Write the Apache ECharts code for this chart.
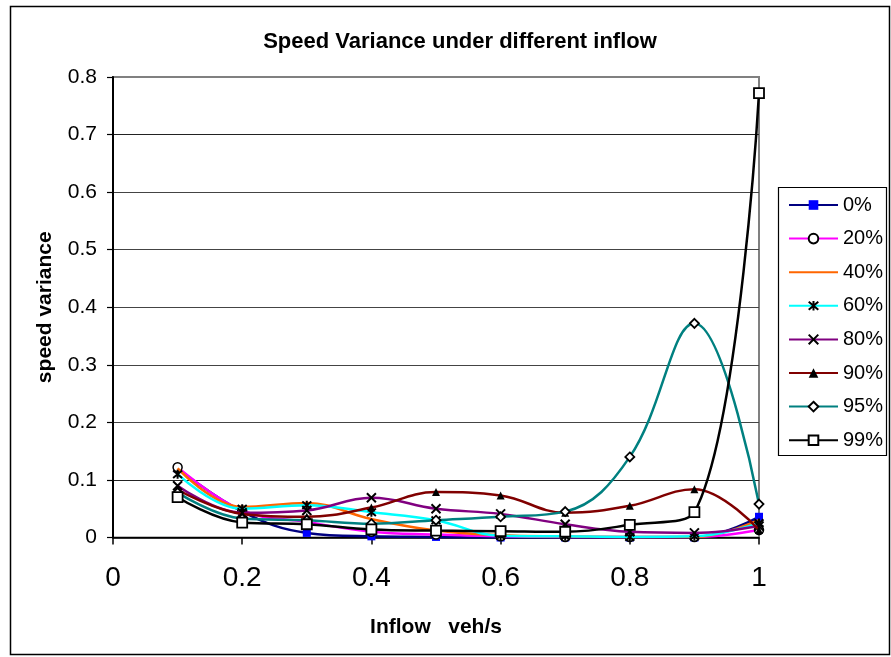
<!DOCTYPE html>
<html>
<head>
<meta charset="utf-8">
<script src="https://cdn.jsdelivr.net/npm/echarts@6/dist/echarts.min.js"></script>
<style>html,body{margin:0;padding:0;background:#fff}#c{width:891px;height:657px}</style>
</head>
<body>
<div id="c"></div>
<script>
var inflow = [0.1, 0.2, 0.3, 0.4, 0.5, 0.6, 0.7, 0.8, 0.9, 1.0];
var seriesNames = ['0%', '20%', '40%', '60%', '80%', '90%', '95%', '99%'];
var v0  = [0.120, 0.045, 0.008, 0.002, 0.001, 0.000, 0.000, 0.000, 0.000, 0.036];
var v20 = [0.122, 0.047, 0.027, 0.010, 0.005, 0.002, 0.001, 0.001, 0.001, 0.013];
var v40 = [0.120, 0.053, 0.060, 0.032, 0.012, 0.004, 0.002, 0.001, 0.001, 0.030];
var v60 = [0.110, 0.050, 0.056, 0.044, 0.030, 0.003, 0.002, 0.001, 0.002, 0.025];
var v80 = [0.090, 0.043, 0.047, 0.069, 0.050, 0.041, 0.023, 0.010, 0.008, 0.020];
var v90 = [0.083, 0.041, 0.036, 0.052, 0.079, 0.073, 0.043, 0.055, 0.084, 0.013];
var v95 = [0.078, 0.033, 0.030, 0.024, 0.030, 0.036, 0.045, 0.140, 0.372, 0.058];
var v99 = [0.070, 0.026, 0.023, 0.014, 0.012, 0.011, 0.010, 0.022, 0.044, 0.772];
var xTicks = [0, 0.2, 0.4, 0.6, 0.8, 1];
var yTicks = [0, 0.1, 0.2, 0.3, 0.4, 0.5, 0.6, 0.7, 0.8];

var values = [v0, v20, v40, v60, v80, v90, v95, v99];
var lineColors = ['#000080', '#FF00FF', '#FF6600', '#00FFFF', '#800080', '#800000', '#008080', '#000000'];
var starPath = 'path://M0,0L10,10M10,0L0,10M5,-1L5,11';
var xPath = 'path://M0,0L10,10M10,0L0,10';
var markers = [
  {symbol: 'rect', size: 8, show: true, itemStyle: {color: '#0000FF'}},
  {symbol: 'circle', size: 9, show: true, itemStyle: {color: '#ffffff', borderColor: '#000000', borderWidth: 1.5}},
  {symbol: 'circle', size: 1, show: false, itemStyle: {color: 'rgba(0,0,0,0)'}},
  {symbol: starPath, size: 9, show: true, itemStyle: {color: '#000000', borderColor: '#000000', borderWidth: 2}},
  {symbol: xPath, size: 9, show: true, itemStyle: {color: '#000000', borderColor: '#000000', borderWidth: 2}},
  {symbol: 'triangle', size: 8, show: true, itemStyle: {color: '#000000'}},
  {symbol: 'diamond', size: 9, show: true, itemStyle: {color: '#ffffff', borderColor: '#000000', borderWidth: 1.8}},
  {symbol: 'rect', size: 10, show: true, itemStyle: {color: '#ffffff', borderColor: '#000000', borderWidth: 1.8}}
];

var series = seriesNames.map(function (name, i) {
  return {
    name: name,
    type: 'line',
    smooth: 0.4,
    data: inflow.map(function (x, j) { return [x, values[i][j]]; }),
    symbol: markers[i].symbol,
    symbolSize: markers[i].size,
    showSymbol: markers[i].show,
    itemStyle: markers[i].itemStyle,
    lineStyle: {color: lineColors[i], width: 2.5},
    z: 2 + i,
    animation: false
  };
});

var font = 'Liberation Sans, Arial';
var chart = echarts.init(document.getElementById('c'), null, {renderer: 'canvas'});
chart.setOption({
  backgroundColor: '#ffffff',
  animation: false,
  title: {
    text: 'Speed Variance under different inflow',
    left: 455, top: 26, textAlign: 'center',
    textStyle: {fontFamily: font, fontWeight: 'bold', fontSize: 22, color: '#000'}
  },
  grid: {left: 113, right: 132, top: 77, bottom: 119.5, show: true, borderColor: '#808080', borderWidth: 2, backgroundColor: '#ffffff'},
  xAxis: {
    type: 'value', min: 0, max: 1, interval: 0.2,
    name: 'Inflow   veh/s', nameLocation: 'middle', nameGap: 79,
    nameTextStyle: {fontFamily: font, fontWeight: 'bold', fontSize: 21, color: '#000'},
    axisLine: {show: true, onZero: false, lineStyle: {color: '#000', width: 1.5}},
    axisTick: {show: true, inside: false, length: 7, lineStyle: {color: '#000', width: 1.5}},
    axisLabel: {
      margin: 27, fontFamily: font, fontSize: 28, color: '#000',
      formatter: function (v) { var k = xTicks.indexOf(Math.round(v * 10) / 10); return k >= 0 ? String(xTicks[k]) : ''; }
    },
    splitLine: {show: false}
  },
  yAxis: {
    type: 'value', min: 0, max: 0.8, interval: 0.1,
    name: 'speed variance', nameLocation: 'middle', nameGap: 57,
    nameTextStyle: {fontFamily: font, fontWeight: 'bold', fontSize: 21, color: '#000'},
    axisLine: {show: true, lineStyle: {color: '#000', width: 2}},
    axisTick: {show: true, inside: false, length: 6, lineStyle: {color: '#000', width: 1.2}},
    axisLabel: {
      margin: 16, fontFamily: font, fontSize: 21, color: '#000',
      formatter: function (v) { var k = yTicks.indexOf(Math.round(v * 10) / 10); return k >= 0 ? String(yTicks[k]) : ''; }
    },
    splitLine: {show: true, lineStyle: {color: ['#000', '#222', '#444', '#444', '#444', '#444', '#444', '#222', '#808080'], width: 1.2}}
  },
  legend: {
    orient: 'vertical', left: 783, top: 190,
    itemWidth: 49, itemHeight: 12, itemGap: 13.6,
    textStyle: {fontFamily: font, fontSize: 20, color: '#000', lineHeight: 20},
    data: seriesNames
  },
  graphic: [
    {type: 'rect', left: 8, top: 4, shape: {width: 879, height: 648}, style: {fill: 'none', stroke: '#000', lineWidth: 1.5}, z: 100, silent: true},
    {type: 'rect', left: 776, top: 185, shape: {width: 108, height: 268}, style: {fill: 'none', stroke: '#000', lineWidth: 1.2}, z: 100, silent: true}
  ],
  series: series
});
</script>
</body>
</html>
